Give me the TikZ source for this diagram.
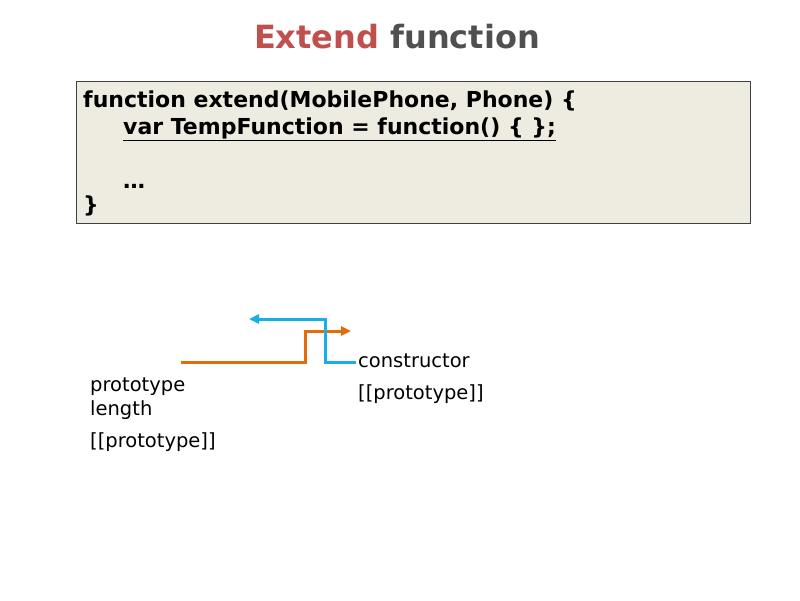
\documentclass[tikz,border=0pt]{standalone}
\usepackage{fontspec}
\setmainfont{DejaVu Sans}
\usetikzlibrary{arrows.meta}
\definecolor{boxfill}{HTML}{EEECE1}
\definecolor{titlered}{HTML}{C0504D}
\definecolor{titlegray}{HTML}{505050}
\definecolor{orng}{HTML}{E36C0A}
\definecolor{blu}{HTML}{1AAEE6}
\begin{document}
\begin{tikzpicture}[x=1pt,y=-1pt,
  code/.style={anchor=base west,inner sep=0pt,font=\fontsize{22}{26}\selectfont\bfseries},
  lbl/.style={anchor=base west,inner sep=0pt,font=\fontsize{19.5}{22}\selectfont},
  wire/.style={line width=3pt,-{Triangle[length=10pt,width=9pt]}}]
\useasboundingbox (0,0) rectangle (800,600);
\node (title) at (397,37) {\fontsize{32}{36}\selectfont\bfseries\textcolor{titlered}{Extend} \textcolor{titlegray}{function}};
\draw[fill=boxfill,draw=black!75,line width=1pt] (76,81) rectangle (750,223);
\node[code] (l1) at (83,107) {function extend(MobilePhone, Phone) \{};
\node[code] (l2) at (123,134) {\underline{var TempFunction = function() \{ \};}};
\node[code] (l3) at (123,188) {…};
\node[code] (l4) at (83,212) {\}};
\node[lbl] (ctor) at (358,367) {constructor};
\node[lbl] (pp2) at (358,399) {[[prototype]]};
\node[lbl] (pr) at (90,391) {prototype};
\node[lbl] (len) at (90,415) {length};
\node[lbl] (pp1) at (90,447) {[[prototype]]};
\coordinate (os) at (181,362);
\coordinate (oe) at (351,331);
\coordinate (bs) at (356,362);
\coordinate (be) at (249,319);
\draw[wire,orng] (os) -- (305,362) -- (305,331) -- (oe);
\draw[wire,blu] (bs) -- (325,362) -- (325,319) -- (be);
\end{tikzpicture}
\end{document}
